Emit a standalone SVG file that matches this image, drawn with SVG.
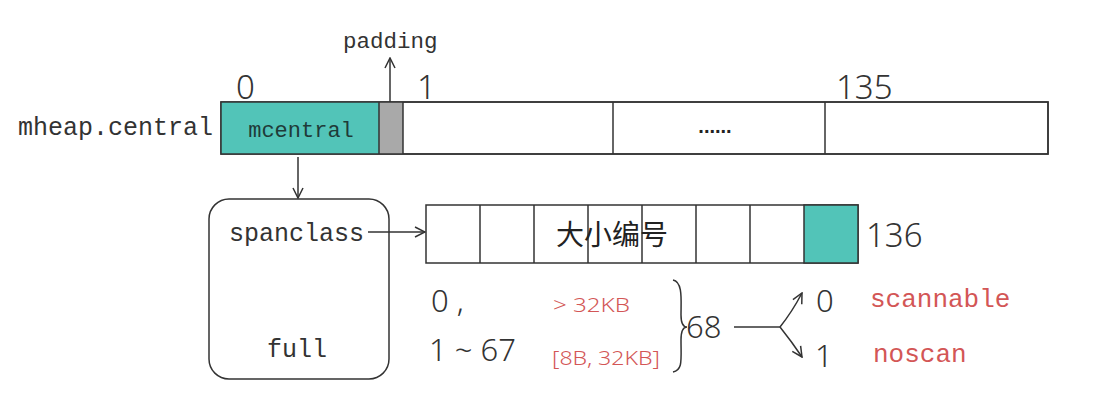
<svg xmlns="http://www.w3.org/2000/svg" width="1103" height="417" viewBox="0 0 1103 417">
<style>
.mono{font-family:"Liberation Mono","DejaVu Sans Mono",monospace;fill:#333}
.num{font-family:"Noto Sans","Open Sans",sans-serif;font-weight:300;fill:#333}
.red{fill:#d35656}
.box{fill:#fff;stroke:#333;stroke-width:1.5}
.teal{fill:#52c4b8;stroke:#333;stroke-width:1.5}
.ln{fill:none;stroke:#333;stroke-width:1.5}
.cjk{font-family:"Noto Sans CJK SC","Noto Sans",sans-serif;fill:#222}
</style>
<defs>
<marker id="arr" viewBox="0 0 12 12" refX="11" refY="6" markerWidth="12" markerHeight="12" markerUnits="userSpaceOnUse" orient="auto">
<path d="M1,1 L11,6 L1,11" fill="none" stroke="#333" stroke-width="1.5"/>
</marker>
</defs>
<rect width="1103" height="417" fill="#fff"/>

<g id="heap-label">
<text class="mono" x="18" y="135" font-size="25">mheap.central</text>
</g>

<g id="central-array">
<rect class="box" x="221" y="102" width="827" height="52"/>
<rect x="221" y="102" width="158" height="52" fill="#52c4b8"/>
<rect x="379" y="102" width="24" height="52" fill="#a9a9a9"/>
<rect class="ln" x="221" y="102" width="827" height="52"/>
<line class="ln" x1="379" y1="102" x2="379" y2="154" stroke-width="1"/>
<line class="ln" x1="403" y1="102" x2="403" y2="154"/>
<line class="ln" x1="613" y1="102" x2="613" y2="154"/>
<line class="ln" x1="825" y1="102" x2="825" y2="154"/>
<text class="mono" x="301" y="137" font-size="22" text-anchor="middle" style="fill:#1f3b38">mcentral</text>
<text x="715" y="133" font-size="20" font-weight="bold" text-anchor="middle" font-family="Liberation Sans,sans-serif" fill="#222">......</text>
<text class="num" x="236" y="99" font-size="33">0</text>
<text class="num" x="417" y="99" font-size="33">1</text>
<text class="num" x="836" y="99" font-size="33">135</text>
</g>

<g id="padding-label">
<text class="mono" x="343" y="48" font-size="22.5">padding</text>
</g>

<g id="mcentral-struct">
<rect class="box" x="209" y="199" width="180" height="180" rx="20" ry="20"/>
<text class="mono" x="229" y="241" font-size="25">spanclass</text>
<text class="mono" x="267" y="357" font-size="25">full</text>
</g>

<g id="spanclass-array">
<rect class="box" x="426" y="205" width="432" height="58"/>
<rect class="teal" x="804" y="205" width="54" height="58"/>
<line class="ln" x1="480" y1="205" x2="480" y2="263"/>
<line class="ln" x1="534" y1="205" x2="534" y2="263"/>
<line class="ln" x1="588" y1="205" x2="588" y2="263"/>
<line class="ln" x1="642" y1="205" x2="642" y2="263"/>
<line class="ln" x1="696" y1="205" x2="696" y2="263"/>
<line class="ln" x1="750" y1="205" x2="750" y2="263"/>
<text class="cjk" x="612" y="245" font-size="28" text-anchor="middle">大小编号</text>
<text class="num" x="866" y="247" font-size="33">136</text>
</g>

<g id="size-classes">
<text class="num" x="431" y="312" font-size="31">0 ,</text>
<text class="num" x="429" y="361" font-size="31">1 ~ 67</text>
<text class="num red" x="553" y="312" font-size="20" textLength="77" lengthAdjust="spacingAndGlyphs">&gt; 32KB</text>
<text class="num red" x="552" y="365" font-size="20" textLength="108" lengthAdjust="spacingAndGlyphs">[8B, 32KB]</text>
<text class="num" x="686" y="338" font-size="31">68</text>
</g>

<g id="scan-kinds">
<text class="num" x="816" y="312" font-size="31">0</text>
<text class="num" x="815" y="367" font-size="31">1</text>
<text class="mono red" x="870" y="307" font-size="26">scannable</text>
<text class="mono red" x="873" y="362" font-size="26">noscan</text>
</g>

<g id="connectors">
<line class="ln" x1="390" y1="102" x2="390" y2="58" marker-end="url(#arr)"/>
<line class="ln" x1="298" y1="157" x2="298" y2="198" marker-end="url(#arr)"/>
<line class="ln" x1="368" y1="232" x2="425" y2="232" marker-end="url(#arr)"/>
<path class="ln" d="M673,280 C683,282 681,300 681,315 C681,322 683,327 687,327 C683,327 681,332 681,340 C681,360 683,370 673,372"/>
<line class="ln" x1="734" y1="327" x2="780" y2="327"/>
<path class="ln" d="M780,327 Q792,312 802,293" marker-end="url(#arr)"/>
<path class="ln" d="M780,327 Q792,342 802,357" marker-end="url(#arr)"/>
</g>
</svg>
